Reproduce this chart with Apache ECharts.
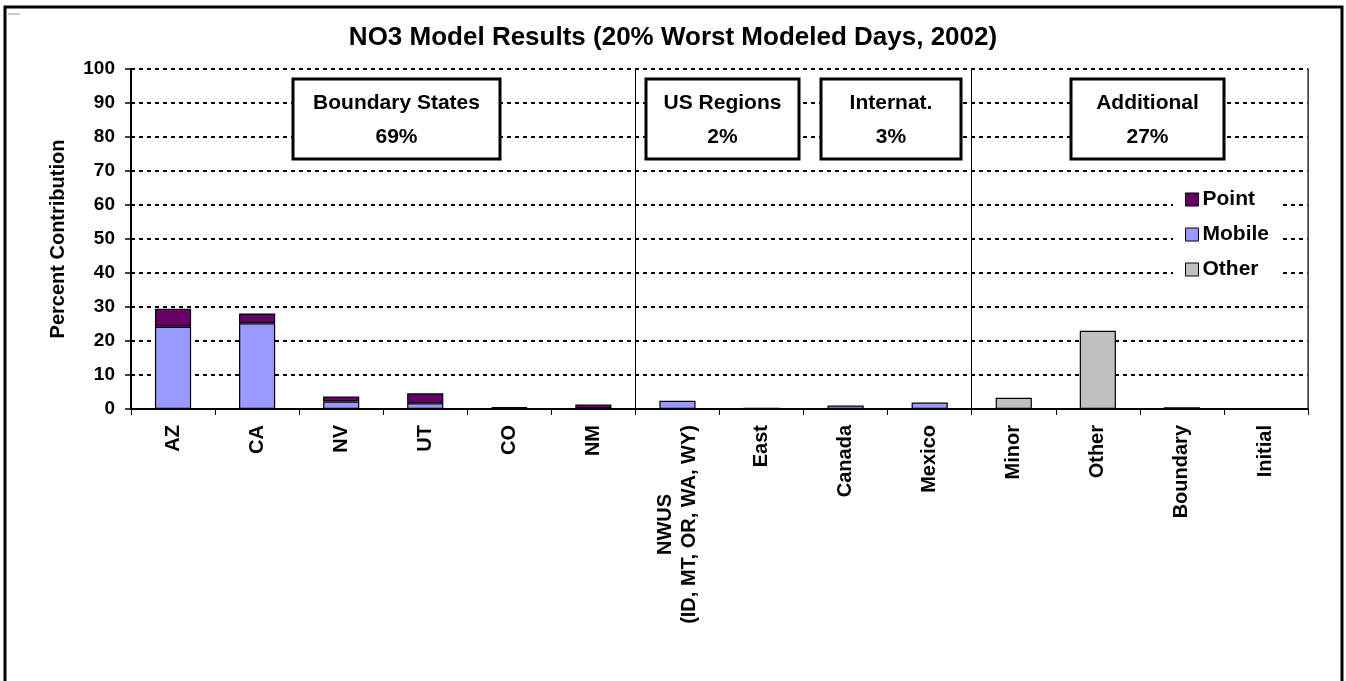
<!DOCTYPE html>
<html>
<head>
<meta charset="utf-8">
<script src="https://cdn.jsdelivr.net/npm/echarts@6/dist/echarts.min.js"></script>
<style>
  html, body { margin: 0; padding: 0; background: #fff; }
  #chart { width: 1346px; height: 681px; }
</style>
</head>
<body>
<div id="chart"></div>
<script>
// ---- data ----
const categories = ['AZ', 'CA', 'NV', 'UT', 'CO', 'NM', 'NWUS\n(ID, MT, OR, WA, WY)', 'East', 'Canada', 'Mexico', 'Minor', 'Other', 'Boundary', 'Initial'];
const mobileValues = [24.2, 25.2, 2.2, 1.7, 0.3, 0.2, 2.4, 0.4, 1.0, 1.9, null, null, null, null];
const pointValues  = [5.3, 2.9, 1.5, 2.9, 0.2, 1.1, null, null, null, null, null, null, null, null];
const otherValues  = [null, null, null, null, null, null, null, null, null, null, 3.3, 23.0, 0.5, 0];
const yTicks = [0, 10, 20, 30, 40, 50, 60, 70, 80, 90, 100];
const groupTitles = ['Boundary States', 'US Regions', 'Internat.', 'Additional'];
const groupShares = ['69%', '2%', '3%', '27%'];
const groupStartIndex = [6, 10]; // category index where a new group begins (separator lines)

const FONT = '"Liberation Sans", Arial, Helvetica, sans-serif';

const chart = echarts.init(document.getElementById('chart'), null, { renderer: 'canvas' });

// annotation boxes (layout only)
const boxLayout = [
  { x: 293, w: 207 },
  { x: 646, w: 153 },
  { x: 821, w: 140 },
  { x: 1071, w: 153 }
];
const graphics = [
  { type: 'rect', shape: { x: 5, y: 7, width: 1337, height: 700 }, style: { fill: null, stroke: '#000', lineWidth: 3 }, z: 100 },
  { type: 'line', shape: { x1: 8, y1: 14, x2: 20, y2: 14 }, style: { stroke: '#999', lineWidth: 1 }, z: 100 }
];
groupTitles.forEach((t, i) => {
  const b = boxLayout[i];
  graphics.push({
    type: 'rect', shape: { x: b.x, y: 79, width: b.w, height: 80 },
    style: { fill: '#fff', stroke: '#000', lineWidth: 3 }, z: 100
  });
  graphics.push({
    type: 'text', x: b.x + b.w / 2, y: 120, z: 101,
    style: {
      text: t + '\n' + groupShares[i], fill: '#000',
      font: 'bold 21px ' + FONT, lineHeight: 34,
      align: 'center', verticalAlign: 'middle'
    }
  });
});

const barBase = {
  type: 'bar',
  stack: 'total',
  barCategoryGap: '57%',
  xAxisIndex: 0,
  yAxisIndex: 0
};

const option = {
  backgroundColor: '#fff',
  animation: false,
  title: {
    text: 'NO3 Model Results (20% Worst Modeled Days, 2002)',
    left: 'center',
    top: 20,
    textStyle: { fontFamily: FONT, fontWeight: 'bold', fontSize: 26, color: '#000' }
  },
  legend: {
    data: ['Point', 'Mobile', 'Other'],
    orient: 'vertical',
    left: 1173,
    top: 181,
    padding: [8, 10, 8, 12],
    backgroundColor: '#fff',
    icon: 'rect',
    itemWidth: 13,
    itemHeight: 13,
    itemGap: 14,
    itemStyle: { borderColor: '#000', borderWidth: 1 },
    textStyle: { fontFamily: FONT, fontWeight: 'bold', fontSize: 21, color: '#000', padding: [0, 0, 0, -1] }
  },
  grid: { left: 131, right: 38, top: 69, bottom: 272, containLabel: false },
  xAxis: {
    type: 'category',
    data: categories,
    axisLine: { lineStyle: { color: '#000', width: 2 } },
    axisTick: { show: true, interval: 0, length: 6, lineStyle: { color: '#000', width: 1 } },
    axisLabel: {
      interval: 0,
      rotate: 90,
      margin: 16,
      color: '#000',
      fontFamily: FONT,
      fontWeight: 'bold',
      fontSize: 20,
      lineHeight: 23,
      formatter: function (v) {
        return v.split('\n').map(s => '{c|' + s + '}').join('\n');
      },
      rich: {
        c: { align: 'center', fontFamily: FONT, fontWeight: 'bold', fontSize: 20, lineHeight: 24, color: '#000' }
      }
    },
    splitLine: {
      show: true,
      interval: function (index) { return groupStartIndex.indexOf(index) >= 0; },
      lineStyle: { color: '#000', width: 1, type: 'solid' }
    }
  },
  yAxis: [
    {
      type: 'value',
      min: yTicks[0],
      max: yTicks[yTicks.length - 1],
      interval: yTicks[1] - yTicks[0],
      name: 'Percent Contribution',
      nameLocation: 'middle',
      nameRotate: 90,
      nameGap: 63,
      nameTextStyle: { fontFamily: FONT, fontWeight: 'bold', fontSize: 20, color: '#000' },
      axisLine: { show: true, lineStyle: { color: '#000', width: 2 } },
      axisTick: { show: true, length: 6, lineStyle: { color: '#000', width: 1.5 } },
      axisLabel: { margin: 16, color: '#000', fontFamily: FONT, fontWeight: 'bold', fontSize: 19 },
      splitLine: { show: true, lineStyle: { color: '#000', width: 2, type: [4, 4] } }
    },
    {
      type: 'value',
      position: 'right',
      min: 0, max: 100,
      axisLine: { show: true, lineStyle: { color: '#555', width: 1.5 } },
      axisTick: { show: false },
      axisLabel: { show: false },
      splitLine: { show: false }
    }
  ],
  series: [
    Object.assign({}, barBase, {
      name: 'Mobile',
      data: mobileValues,
      itemStyle: { color: '#9999FF', borderColor: '#000', borderWidth: 1.2 }
    }),
    Object.assign({}, barBase, {
      name: 'Point',
      data: pointValues,
      itemStyle: { color: '#660066', borderColor: '#000', borderWidth: 1.2 }
    }),
    Object.assign({}, barBase, {
      name: 'Other',
      data: otherValues,
      itemStyle: { color: '#C0C0C0', borderColor: '#000', borderWidth: 1.2 }
    })
  ],
  graphic: graphics
};

chart.setOption(option);
</script>
</body>
</html>
